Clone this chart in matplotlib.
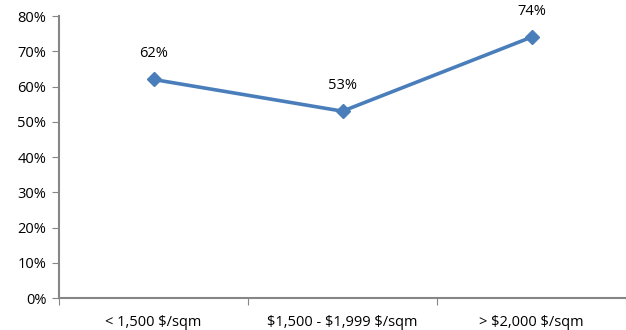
import matplotlib
matplotlib.use("Agg")
import matplotlib.pyplot as plt
from matplotlib.ticker import PercentFormatter

categories = ["< 1,500 $/sqm", "$1,500 - $1,999 $/sqm", "> $2,000 $/sqm"]
values = [62, 53, 74]
yticks = [0, 10, 20, 30, 40, 50, 60, 70, 80]

plt.rcParams["font.family"] = ["Open Sans", "DejaVu Sans"]
plt.rcParams["text.parse_math"] = False
axis_grey = "#868686"
line_blue = "#4a7ebb"

fig = plt.figure(figsize=(6.26, 3.30), dpi=100)
ax = fig.add_axes([59 / 626, 1 - 298 / 330, 1 - 59 / 626, (298 - 16) / 330])

x = list(range(len(categories)))
ax.plot(x, values, color=line_blue, linewidth=2.6, marker="D", markersize=7,
        markerfacecolor=line_blue, markeredgecolor=line_blue, clip_on=False)
for xi, v in zip(x, values):
    ax.annotate(f"{v}%", (xi, v), xytext=(0, 13), textcoords="offset points",
                ha="center", va="bottom", fontsize=10.5, color="black")

ax.set_xlim(-0.5, 2.5)
ax.set_ylim(0, 80)
ax.set_yticks(yticks)
ax.yaxis.set_major_formatter(PercentFormatter(decimals=0))
ax.set_xticks([-0.5, 0.5, 1.5, 2.5])
ax.set_xticklabels([])
ax.set_xticks(x, minor=True)
ax.set_xticklabels(categories, minor=True)
ax.tick_params(axis="x", which="minor", length=0, pad=12.5, labelsize=10.5)
ax.tick_params(axis="x", which="major", length=5, color=axis_grey, direction="out")
ax.tick_params(axis="y", length=5, color=axis_grey, labelsize=10.5, pad=4)

for side in ["top", "right"]:
    ax.spines[side].set_visible(False)
for side in ["left", "bottom"]:
    ax.spines[side].set_color(axis_grey)
    ax.spines[side].set_linewidth(1.5)

fig.savefig("out.png", dpi=100)
